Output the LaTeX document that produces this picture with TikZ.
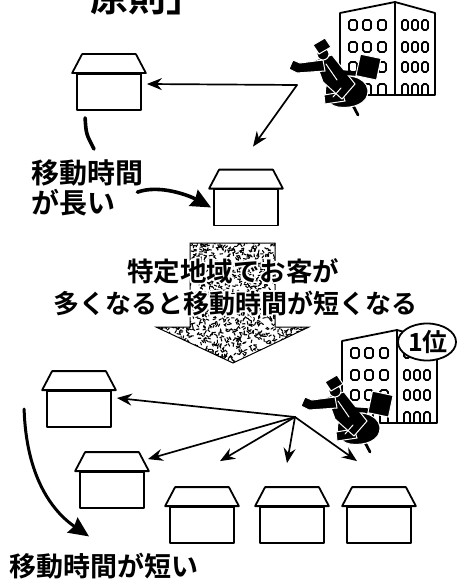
\documentclass[tikz,border=0pt]{standalone}
\usepackage{fontspec}
\newfontfamily\jp{Noto Sans CJK JP}[BoldFont={Noto Sans CJK JP Bold}]
\usetikzlibrary{arrows.meta,calc,shapes.geometric}

% white stroked copy underneath the text gives it a halo
\newcommand\halotext[1]{\leavevmode\rlap{\special{pdf:literal direct 1 Tr 3.6 w 1 1 1 RG 1 j}#1\special{pdf:literal direct 0 Tr 0 0 0 RG}}#1}

\tikzset{
  outline/.style={line width=1.8pt, line join=round},
  win/.style={line width=1.7pt, rounded corners=1.8pt},
  ray/.style={line width=1.7pt, -{Stealth[length=15pt,width=12pt,inset=5pt]}},
  sweep/.style={line width=3.6pt, line cap=round},
  sweeptip/.style={sweep, -{Stealth[length=20pt,width=18pt,inset=2pt]}},
  ink/.style={fill=black, draw=white, line width=1pt},
  jp/.style={inner sep=0pt, font=\jp\bfseries\fontsize{#1}{#1}\selectfont},
  house/.pic={
    \node[outline, draw, fill=white, minimum width=64pt, minimum height=36pt,
          inner sep=0pt] (-body) {};
    \draw[outline, fill=white]
      ($(-body.north west)+(-4,0)$) -- ($(-body.north west)+(6,-19)$) --
      ($(-body.north east)+(-6,-19)$) -- ($(-body.north east)+(4,0)$) -- cycle;
  },
  building/.pic={
    \draw[outline, fill=white] (0,0) -- (55,-11) -- (95,0) -- (95,82) -- (0,82) -- cycle;
    \draw[outline] (55,-11) -- (55,82);
    \foreach \x in {9,23,38}{
      \foreach \y in {7,29,49} \draw[win] (\x,\y) rectangle ++(8,10);
      \draw[win] (\x,82) -- ++(0,-11) -- ++(8,0) -- ++(0,11);
    }
    \foreach \x in {62,72,82}{
      \foreach \y in {7,29,49} \draw[win] (\x,\y) rectangle ++(6,10);
      \draw[win] (\x,82) -- ++(0,-11) -- ++(6,0) -- ++(0,11);
    }
  },
  runner/.pic={
    % trailing leg
    \draw[line width=2.8pt] (348,96) -- (358,115);
    % hips and legs
    \fill[ink] (329,80) .. controls (345,72) and (366,76) .. (368,90)
      .. controls (369,104) and (352,109) .. (338,107)
      .. controls (325,105) and (322,90) .. (329,80) -- cycle;
    % front foot
    \fill[ink] (324,95) -- (342,92) -- (345,101) -- (325,104) -- cycle;
    % torso
    \fill[ink] (315,60) -- (332,55) -- (355,84) -- (342,99) -- (323,82) -- cycle;
    % arm reaching forward
    \fill[ink] (323,60) -- (300,63) -- (293,60) -- (289,69) -- (297,73) -- (325,71) -- cycle;
    % head and hat
    \fill[ink] (323,54) circle (6);
    \fill[ink] (313,45) -- (325,38) -- (331,47) -- (319,54) -- cycle;
    % other arm and briefcase
    \draw[line width=4.5pt] (336,72) -- (361,74);
    \fill[ink, rotate around={-12:(368,67)}] (358,56) rectangle (379,78);
    \draw[white, line width=1pt] (326,64) -- (337,80);
    \draw[white, line width=1pt] (333,97) -- (341,88);
  }
}

\begin{document}
\begin{tikzpicture}[x=1pt, y=-1pt, line cap=round]
\useasboundingbox (0,0) rectangle (461,583);
\clip (0,0) rectangle (461,583);

% ---------- heading ----------
\node[jp=38, anchor=base west] (title) at (90,12) {原則」};

% ---------- before: scattered customers ----------
\pic (bA) at (340,13) {building};
\pic at (0,0) {runner};
\pic (t1) at (109,92) {house};
\pic (t2) at (246,207.5) {house};

\coordinate (o1) at (297,85);
\coordinate (t1tip) at ($(t1-body.east)+(5,-8)$);
\coordinate (t2tip) at ($(t2-body.north)+(7,-42)$);
\draw[ray] (o1) -- (t1tip);
\draw[ray] (o1) -- (t2tip);

\node[jp=28, anchor=base west] (long1) at (31,183) {移動時間};
\node[jp=28, anchor=base west] (long2) at (31,213) {が長い};
\coordinate (c1a) at ($(t1-body.south west)+(9,7)$);
\coordinate (c1b) at ($(long1.north west)+(63,-10)$);
\draw[sweep] (c1a) .. controls ($(c1a)+(1,16)$) .. (c1b);
\coordinate (c2a) at ($(long2.east)+(22,-10)$);
\coordinate (c2b) at ($(t2-body.west)+(-2,0)$);
\draw[sweeptip] (c2a) .. controls ($(c2a)+(22,-8)$) and ($(c2b)+(-22,-12)$) .. (c2b);

% ---------- big textured down arrow ----------
\begin{scope}
  \clip (190,243) -- (275,243) -- (275,327) -- (309,327) -- (233,363)
        -- (156,327) -- (190,327) -- cycle;
  \pgfmathsetseed{4242}
  \foreach \k in {1,...,1800}{
    \pgfmathsetmacro\px{154+157*rnd}
    \pgfmathsetmacro\py{242+122*rnd}
    \pgfmathsetmacro\pa{360*rnd}
    \draw[line width=1.1pt, line cap=round] (\px,\py) -- ++(\pa:2.6);
  }
\end{scope}
\draw[line width=1pt] (190,243) -- (275,243) -- (275,327) -- (309,327) -- (233,363)
        -- (156,327) -- (190,327) -- cycle;

\node[jp=26.5, anchor=base] (mid1) at (233,281) {\halotext{特定地域でお客が}};
\node[jp=26, anchor=base] (mid2) at (235,313) {\halotext{多くなると移動時間が短くなる}};

% ---------- after: clustered customers ----------
\pic (bB) at (342,341) {building};
\node[outline, draw, fill=white, ellipse, minimum width=58pt, minimum height=37pt,
      inner sep=0pt] (rank) at (427,342) {};
\node[jp=25] at ($(rank.center)+(1,0)$) {1位};
\pic at (12,337) {runner};

\pic (hA) at (79,409) {house};
\pic (hB) at (112,490) {house};
\pic (hC) at (202,525) {house};
\pic (hD) at (292,525) {house};
\pic (hE) at (379,525) {house};

\coordinate (o2) at (295,417);
\draw[ray] (o2) -- ($(hA-body.east)+(5,-11)$);
\draw[ray] (o2) -- ($(hB-body.north east)+(3,-12)$);
\draw[ray] (o2) -- ($(hC-body.north)+(18,-45)$);
\draw[ray] (o2) -- ($(hD-body.north)+(-5,-43)$);
\draw[ray] (o2) -- ($(hE-body.north)+(-22,-45)$);

\node[jp=27, anchor=base west] (short) at (9,576) {移動時間が短い};
\coordinate (c3a) at ($(hA-body.west)+(-22,0)$);
\coordinate (c3b) at ($(short.north west)+(80,-16)$);
\draw[sweeptip, line width=3pt] (c3a) .. controls ($(c3a)+(2,66)$) and ($(c3b)+(-38,-26)$) .. (c3b);
\end{tikzpicture}
\end{document}
